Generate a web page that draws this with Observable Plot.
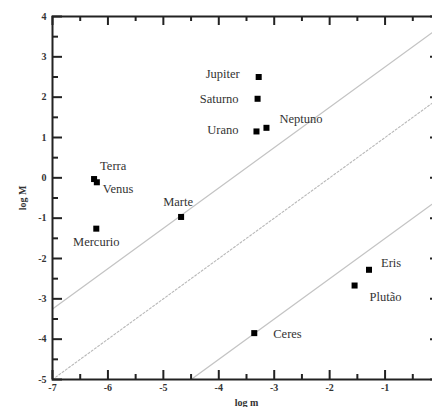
<!DOCTYPE html>
<html>
<head>
<meta charset="utf-8">
<script src="https://cdn.jsdelivr.net/npm/d3@7"></script>
<script src="https://cdn.jsdelivr.net/npm/@observablehq/plot@0.6"></script>
<style>
  html, body { margin: 0; padding: 0; background: #fff; }
  svg { display: block; }
  svg text { font-family: "Liberation Serif", "Times New Roman", serif; }
</style>
</head>
<body>
<div id="chart"></div>
<script>
// Data
const names = ["Terra", "Venus", "Mercurio", "Marte", "Jupiter", "Saturno", "Urano", "Neptuno", "Eris", "Plutão", "Ceres"];
const logm  = [-6.25, -6.20, -6.21, -4.68, -3.28, -3.30, -3.32, -3.14, -1.29, -1.55, -3.36];
const logM  = [-0.03, -0.11, -1.26, -0.97,  2.50,  1.96,  1.15,  1.24, -2.28, -2.67, -3.85];

// Reference lines (endpoints)
const upperLineX = [-7, 0],  upperLineY = [-3.25, 3.75];
const middleLineX = [-7, 0], middleLineY = [-5, 2];
const lowerLineX = [-4.5, 0], lowerLineY = [-5, -0.5];

const xMajor = [-7, -6, -5, -4, -3, -2, -1, 0];
const xMinor = [-6.5, -5.5, -4.5, -3.5, -2.5, -1.5, -0.5];
const yMajor = [-5, -4, -3, -2, -1, 0, 1, 2, 3, 4];
const yMinor = [-4.5, -3.5, -2.5, -1.5, -0.5, 0.5, 1.5, 2.5, 3.5];
const xTickLabels = ["-7", "-6", "-5", "-4", "-3", "-2", "-1", "0"];
const yTickLabels = ["-5", "-4", "-3", "-2", "-1", "0", "1", "2", "3", "4"];

const points = names.map((n, i) => ({name: n, x: logm[i], y: logM[i]}));
const line = (X, Y) => X.map((x, i) => ({x, y: Y[i]}));

// label placement (pixels)
const labelPos = {
  "Terra":   {dx: 6,  dy: -13, anchor: "start"},
  "Venus":   {dx: 6,  dy: 7,   anchor: "start"},
  "Mercurio":{dx: 0,  dy: 13,  anchor: "middle"},
  "Marte":   {dx: -3, dy: -15, anchor: "middle"},
  "Jupiter": {dx: -19, dy: -3, anchor: "end"},
  "Saturno": {dx: -19, dy: 0,  anchor: "end"},
  "Urano":   {dx: -18, dy: -1, anchor: "end"},
  "Neptuno": {dx: 13, dy: -9,  anchor: "start"},
  "Eris":    {dx: 12, dy: -7,  anchor: "start"},
  "Plutão":  {dx: 15, dy: 11,  anchor: "start"},
  "Ceres":   {dx: 19, dy: 1,   anchor: "start"}
};

const axisColor = "#222";
const font = "Liberation Serif";

const chart = Plot.plot({
  width: 432,
  height: 407,
  marginLeft: 52,
  marginRight: -8,
  marginTop: 16,
  marginBottom: 28,
  style: {fontFamily: font, fontSize: "10px", background: "#fff", color: "#222"},
  x: {domain: [-7, 0]},
  y: {domain: [-5, 4]},
  marks: [
    Plot.line(line(upperLineX, upperLineY), {x: "x", y: "y", stroke: "#c4c4c4", strokeWidth: 1.3, clip: true}),
    Plot.line(line(middleLineX, middleLineY), {x: "x", y: "y", stroke: "#b8b8b8", strokeWidth: 1.1, strokeDasharray: "2,2", clip: true}),
    Plot.line(line(lowerLineX, lowerLineY), {x: "x", y: "y", stroke: "#c4c4c4", strokeWidth: 1.3, clip: true}),
    // inward ticks: bottom & top
    Plot.ruleX(xMajor, {x: d => d, y1: -5, y2: -5, insetBottom: 9, stroke: axisColor, strokeWidth: 2}),
    Plot.ruleX(xMinor, {x: d => d, y1: -5, y2: -5, insetBottom: 5, stroke: axisColor, strokeWidth: 2}),
    Plot.ruleX(xMajor, {x: d => d, y1: 4, y2: 4, insetTop: 9, stroke: axisColor, strokeWidth: 2}),
    Plot.ruleX(xMinor, {x: d => d, y1: 4, y2: 4, insetTop: 5, stroke: axisColor, strokeWidth: 2}),
    // inward ticks: left & right
    Plot.ruleY(yMajor, {y: d => d, x1: -7, x2: -7, insetLeft: 10, stroke: axisColor, strokeWidth: 2}),
    Plot.ruleY(yMinor, {y: d => d, x1: -7, x2: -7, insetLeft: 6, stroke: axisColor, strokeWidth: 2}),
    Plot.ruleY(yMajor, {y: d => d, x1: 0, x2: 0, insetRight: 10, stroke: axisColor, strokeWidth: 2}),
    Plot.ruleY(yMinor, {y: d => d, x1: 0, x2: 0, insetRight: 6, stroke: axisColor, strokeWidth: 2}),
    Plot.frame({stroke: axisColor, strokeWidth: 2}),
    Plot.axisX({anchor: "bottom", ticks: xMajor.filter(d => d < 0), tickFormat: d => xTickLabels[xMajor.indexOf(d)], tickSize: 0, tickPadding: 4, label: "log m", labelAnchor: "center", labelArrow: "none", labelOffset: 26, fontSize: 10, fontWeight: "bold", fontFamily: font, fill: "#333"}),
    Plot.axisY({anchor: "left", ticks: yMajor, tickFormat: d => yTickLabels[yMajor.indexOf(d)], tickSize: 0, tickPadding: 6, label: "log M", labelAnchor: "center", labelArrow: "none", labelOffset: 34, fontSize: 10, fontWeight: "bold", fontFamily: font, fill: "#333"}),
    Plot.dot(points, {x: "x", y: "y", symbol: "square", r: 3.4, fill: "#000", stroke: "none"}),
    ...names.map(n => Plot.text(points.filter(p => p.name === n), {
      x: "x", y: "y", text: "name",
      dx: labelPos[n].dx, dy: labelPos[n].dy, textAnchor: labelPos[n].anchor,
      fontSize: 12.5, fill: "#333", fontFamily: font
    }))
  ]
});

document.getElementById("chart").appendChild(chart);
</script>
</body>
</html>
